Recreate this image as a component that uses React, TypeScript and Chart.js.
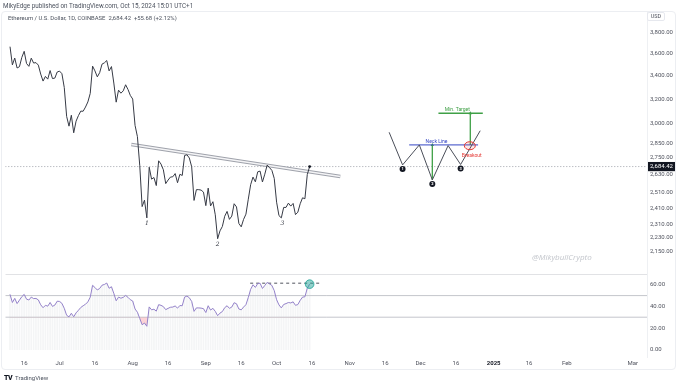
import React, { useEffect, useRef } from 'react';
import { Chart, registerables } from 'chart.js';

Chart.register(...registerables);

// ---------------- data ----------------
const ORIGIN_DATE = '2024-06-16';
const FIRST_BAR_DATE = '2024-06-10';

// ETH/USD daily closes, 2024-06-10 .. 2024-10-15
const closes = [
  3667, 3497, 3560, 3469, 3481, 3566, 3623, 3510, 3484, 3559, 3514, 3518, 3495, 3415, 3353, 3394, 3370, 3446, 3375, 3379, 3433,
  3441, 3418, 3297, 3059, 2982, 3068, 2931, 3021, 3065, 3101, 3100, 3134, 3176, 3247, 3486, 3443, 3390, 3427, 3504, 3516, 3537, 3443, 3482, 3336, 3174, 3275, 3249, 3269, 3321, 3281, 3230,
  3200, 2988, 2902, 2690, 2419, 2460, 2349, 2680, 2598, 2609, 2555, 2725, 2702, 2662, 2568, 2592, 2612, 2614, 2636, 2574, 2631, 2623, 2763, 2768, 2745, 2683, 2458, 2528, 2528, 2525, 2512,
  2425, 2538, 2423, 2450, 2368, 2225, 2271, 2297, 2359, 2389, 2340, 2360, 2437, 2417, 2315, 2295, 2340, 2372, 2466, 2561, 2612, 2580, 2648, 2653, 2579, 2632, 2695, 2677, 2658, 2603,
  2447, 2363, 2349, 2414, 2414, 2441, 2422, 2439, 2369, 2384, 2437, 2475, 2469, 2629, 2684.42,
];

const rsiValues = [
  51.1, 43.6, 47.4, 42.6, 45.8, 49.0, 51.1, 46.7, 45.9, 48.6, 47.2, 47.4, 46.0, 41.5, 38.8, 41.0, 40.2, 43.6, 40.0, 41.2, 44.8,
  44.6, 42.8, 38.2, 31.8, 30.3, 33.6, 30.4, 34.0, 36.4, 39.0, 40.6, 42.0, 44.2, 48.5, 59.5, 57.5, 55.2, 56.6, 59.6, 60.3, 61.6, 56.8, 58.2, 52.0, 45.2, 48.6, 47.6, 48.4, 50.2, 48.4, 46.2,
  45.0, 37.6, 34.6, 28.8, 23.0, 24.6, 21.6, 39.5, 36.8, 37.4, 35.6, 41.6, 41.0, 39.8, 37.0, 38.2, 39.2, 39.4, 40.4, 38.4, 40.8, 40.6, 48.6, 49.6, 48.0, 44.6, 35.4, 38.6, 38.6, 38.4, 37.9,
  34.3, 40.6, 36.6, 38.2, 35.4, 31.4, 33.8, 35.2, 38.8, 40.6, 38.2, 39.4, 43.4, 42.4, 37.6, 36.8, 39.4, 41.6, 48.2, 55.8, 60.0, 57.6, 61.2, 61.4, 56.6, 59.4, 62.2, 60.8, 59.4, 54.6,
  46.2, 41.4, 38.6, 41.8, 42.6, 43.6, 43.2, 44.2, 41.0, 41.7, 45.6, 48.6, 48.9, 56.8, 60.6,
];

const currentPrice = 2684.42;
const priceTicks = [3800, 3600, 3400, 3200, 3000, 2850, 2750, 2630, 2510, 2410, 2310, 2230, 2150];
const rsiTicks = [60, 40, 20, 0];
const rsiBands = [70, 50, 30];

const xTickDates = [
  '2024-06-16', '2024-07-01', '2024-07-16', '2024-08-01', '2024-08-16', '2024-09-01', '2024-09-16', '2024-10-01',
  '2024-10-16', '2024-11-01', '2024-11-16', '2024-12-01', '2024-12-16', '2025-01-01', '2025-01-16', '2025-02-01', '2025-03-01',
];
const xTickLabels = ['16', 'Jul', '16', 'Aug', '16', 'Sep', '16', 'Oct', '16', 'Nov', '16', 'Dec', '16', '2025', '16', 'Feb', 'Mar'];

// drawn annotations, in (day from 2024-06-16, price) units
const trendline = [[45.4, 2843], [134, 2616]];
const waveLabels = [{ text: '1', day: 52, price: 2349 }, { text: '2', day: 82, price: 2225 }, { text: '3', day: 109.5, price: 2349 }];
const schematicPath = [[154.7, 2935], [160.4, 2696], [167.5, 2840], [173, 2593], [179.7, 2835], [185, 2699], [193.3, 2947]];
const schematicMarkers = [{ text: '1', day: 160.4, price: 2696 }, { text: '2', day: 173, price: 2593 }, { text: '3', day: 185, price: 2699 }];
const neckLine = [[163.2, 2840], [192.4, 2840]];
const headArrow = [[173, 2593], [173, 2840]];
const targetArrow = [[189.1, 2840], [189.1, 3084]];
const targetLine = [[175.6, 3084], [194.4, 3084]];
const neckLabel = { text: 'Neck Line', day: 174.8, price: 2840 };
const targetLabel = { text: 'Min. Target', day: 183.6, price: 3084 };
const breakout = { text: 'Breakout', day: 188.9, price: 2834, labelDay: 189.7, labelPrice: 2764 };
const rsiLevelLine = [[95.8, 61.5], [125.6, 61.5]];
const rsiMarker = { day: 121, value: 60.6 };

// ---------------- helpers ----------------
const DAY_MS = 86400000;
const dayOf = (s: string) => Math.round((Date.parse(s + 'T00:00:00Z') - Date.parse(ORIGIN_DATE + 'T00:00:00Z')) / DAY_MS);
const firstDay = dayOf(FIRST_BAR_DATE);
const X_MIN = -8;
const X_MAX = 264;
const xTickDays = xTickDates.map(dayOf);
const pts = (arr: number[][]) => arr.map(([x, y]) => ({ x, y }));
const fmt = (v: number) => v.toLocaleString('en-US', { minimumFractionDigits: 2, maximumFractionDigits: 2 });

const GREEN = '#3fa046';
const BLUE = '#3446c4';
const RED = '#e53935';

const annotationPlugin = {
  id: 'tvAnnotations',
  afterDatasetsDraw(chart: any) {
    const { ctx } = chart;
    const x = chart.scales.x;
    const y = chart.scales.y;
    const px = (d: number) => x.getPixelForValue(d);
    const py = (p: number) => y.getPixelForValue(p);
    ctx.save();
    ctx.textAlign = 'center';
    ctx.textBaseline = 'middle';

    ctx.fillStyle = '#2a2e39';
    ctx.font = 'italic 6px "DejaVu Serif"';
    waveLabels.forEach((w) => ctx.fillText(w.text, px(w.day), py(w.price) + 6));

    ctx.beginPath();
    ctx.ellipse(px(breakout.day), py(breakout.price), 5.5, 4, 0, 0, Math.PI * 2);
    ctx.fillStyle = 'rgba(229,57,53,0.12)';
    ctx.fill();
    ctx.strokeStyle = RED;
    ctx.lineWidth = 1;
    ctx.stroke();

    schematicMarkers.forEach((m) => {
      const cx = px(m.day);
      const cy = py(m.price) + 4;
      ctx.beginPath();
      ctx.arc(cx, cy, 3, 0, Math.PI * 2);
      ctx.fillStyle = '#131722';
      ctx.fill();
      ctx.fillStyle = '#ffffff';
      ctx.font = 'bold 4px Roboto';
      ctx.fillText(m.text, cx, cy + 0.3);
    });

    ctx.font = '5px Roboto';
    ctx.textBaseline = 'bottom';
    ctx.fillStyle = BLUE;
    ctx.fillText(neckLabel.text, px(neckLabel.day), py(neckLabel.price) - 1);
    ctx.fillStyle = GREEN;
    ctx.fillText(targetLabel.text, px(targetLabel.day), py(targetLabel.price) - 1);
    ctx.textBaseline = 'middle';
    ctx.fillStyle = RED;
    ctx.fillText(breakout.text, px(breakout.labelDay), py(breakout.labelPrice));
    ctx.restore();
  },
};

export default function App() {
  const ref = useRef<HTMLCanvasElement>(null);

  useEffect(() => {
    document.body.style.margin = '0';
    const lineBase = { type: 'line', pointRadius: 0, tension: 0, fill: false, xAxisID: 'x' };
    const chart = new Chart(ref.current as HTMLCanvasElement, {
      type: 'line',
      data: {
        datasets: [
          {
            ...lineBase,
            yAxisID: 'y',
            data: closes.map((c, i) => ({ x: firstDay + i, y: c })),
            borderColor: '#363a45',
            borderWidth: 1,
            pointRadius: (c: any) => (c.dataIndex === closes.length - 1 ? 1.4 : 0),
            pointBackgroundColor: '#131722',
            pointBorderWidth: 0,
            order: 1,
          },
          { ...lineBase, yAxisID: 'y', data: pts(schematicPath), borderColor: '#4a4e59', borderWidth: 1, order: 2 },
          { ...lineBase, yAxisID: 'y', data: pts(neckLine), borderColor: BLUE, borderWidth: 1, order: 2 },
          {
            ...lineBase, yAxisID: 'y', data: pts(headArrow), borderColor: GREEN, borderWidth: 1.3, order: 2,
            pointStyle: 'triangle', pointRadius: [0, 2], pointBackgroundColor: GREEN, pointBorderWidth: 0,
          },
          {
            ...lineBase, yAxisID: 'y', data: pts(targetArrow), borderColor: GREEN, borderWidth: 1.3, order: 2,
            pointStyle: 'triangle', pointRadius: [0, 2], pointBackgroundColor: GREEN, pointBorderWidth: 0,
          },
          { ...lineBase, yAxisID: 'y', data: pts(targetLine), borderColor: GREEN, borderWidth: 1.3, order: 2 },
          { ...lineBase, yAxisID: 'y', data: pts(trendline), borderColor: '#f4f4f6', borderWidth: 1.4, order: 3 },
          { ...lineBase, yAxisID: 'y', data: pts(trendline), borderColor: '#9fa2ab', borderWidth: 3.4, order: 4 },
          {
            ...lineBase, yAxisID: 'y', data: [{ x: X_MIN, y: currentPrice }, { x: X_MAX, y: currentPrice }],
            borderColor: '#a0a3ab', borderWidth: 1, borderDash: [1, 2], order: 5,
          },
          // RSI pane
          {
            ...lineBase, yAxisID: 'rsi', data: rsiValues.map((r, i) => ({ x: firstDay + i, y: r })),
            borderColor: '#9381c9', borderWidth: 1, order: 1,
            fill: { target: { value: 30 }, above: 'rgba(0,0,0,0)', below: 'rgba(242,54,69,0.22)' },
          },
          {
            ...lineBase, yAxisID: 'rsi', data: pts(rsiLevelLine), borderColor: '#50535e', borderWidth: 1, borderDash: [3, 3], order: 2,
          },
          {
            ...lineBase, yAxisID: 'rsi', data: [{ x: rsiMarker.day, y: rsiMarker.value }], showLine: false,
            pointRadius: 4.3, pointBackgroundColor: 'rgba(38,166,154,0.5)', pointBorderColor: 'rgba(38,166,154,0.85)', pointBorderWidth: 1, order: 0,
          },
          ...rsiBands.map((b) => ({
            ...lineBase, yAxisID: 'rsi', data: [{ x: X_MIN, y: b }, { x: X_MAX, y: b }], borderColor: '#c4c6cc', borderWidth: 1, order: 6,
          })),
          {
            type: 'bar', xAxisID: 'x', yAxisID: 'rsi', data: rsiValues.map((r, i) => ({ x: firstDay + i, y: r })),
            backgroundColor: 'rgba(120,123,134,0.08)', barThickness: 1, order: 7,
          },
        ] as any,
      },
      options: {
        responsive: false,
        animation: false,
        devicePixelRatio: 1,
        events: [],
        layout: { padding: { top: 12, bottom: 15, left: 0, right: 0 } },
        plugins: { legend: { display: false }, tooltip: { enabled: false } },
        scales: {
          x: {
            type: 'linear', min: X_MIN, max: X_MAX, offset: false,
            grid: { display: false, drawTicks: false }, border: { display: false },
            afterBuildTicks: (s: any) => { s.ticks = xTickDays.map((v) => ({ value: v })); },
            afterFit: (s: any) => { s.height = 14; },
            ticks: {
              autoSkip: false, maxRotation: 0, padding: 3,
              color: (c: any) => (xTickLabels[c.index] === '2025' ? '#131722' : '#50535e'),
              font: (c: any) => ({ family: 'Roboto', size: 6, weight: xTickLabels[c.index] === '2025' ? 'bold' : 'normal' }),
              callback: (_v: any, i: number) => xTickLabels[i],
            },
          },
          y: {
            type: 'logarithmic', position: 'right', stack: 'panes', stackWeight: 262,
            min: 2030, max: 4013, bounds: 'data',
            grid: { display: false, drawTicks: false }, border: { display: true, color: '#eef0f3' },
            afterBuildTicks: (s: any) => { s.ticks = [...priceTicks, currentPrice].map((v) => ({ value: v })); },
            afterFit: (s: any) => { s.width = 33; },
            ticks: {
              autoSkip: false, padding: 3,
              font: { family: 'Roboto', size: 6 },
              color: (c: any) => (c.tick && c.tick.value === currentPrice ? '#ffffff' : '#50535e'),
              showLabelBackdrop: (c: any) => !!(c.tick && c.tick.value === currentPrice),
              backdropColor: '#131722',
              backdropPadding: { left: 2, right: 2, top: 1, bottom: 1 },
              callback: (v: any) => fmt(Number(v)),
            },
          },
          rsi: {
            type: 'linear', position: 'right', stack: 'panes', stackWeight: 83,
            min: -6.85, max: 70,
            grid: { display: false, drawTicks: false }, border: { display: true, color: '#eef0f3' },
            afterBuildTicks: (s: any) => { s.ticks = rsiTicks.map((v) => ({ value: v })); },
            afterFit: (s: any) => { s.width = 33; },
            ticks: {
              autoSkip: false, padding: 3,
              font: { family: 'Roboto', size: 6 }, color: '#50535e',
              callback: (v: any) => fmt(Number(v)),
            },
          },
        } as any,
      },
      plugins: [annotationPlugin],
    } as any);
    return () => chart.destroy();
  }, []);

  const overlay: React.CSSProperties = { position: 'absolute', whiteSpace: 'nowrap', lineHeight: 1, pointerEvents: 'none', fontFamily: 'Roboto, sans-serif' };

  return (
    <div style={{ position: 'absolute', left: 0, top: 0, width: 680, height: 386, background: '#ffffff', overflow: 'hidden' }}>
      <div style={{ position: 'absolute', left: 1, top: 11, width: 675, height: 359, border: '1px solid #eceef2', borderRadius: 4, boxSizing: 'border-box' }} />
      <canvas ref={ref} width={680} height={386} style={{ position: 'absolute', left: 0, top: 0, width: 680, height: 386 }} />
      <div style={{ ...overlay, left: 3, top: 3, fontSize: 6.3, color: '#4c525e' }}>
        MikyEdge published on TradingView.com, Oct 15, 2024 15:01 UTC+1
      </div>
      <div style={{ ...overlay, left: 8, top: 16.3, fontSize: 5.9, color: '#4c525e' }}>
        Ethereum / U.S. Dollar, 1D, COINBASE&nbsp;&nbsp;2,684.42&nbsp;&nbsp;+55.68 (+2.12%)
      </div>
      <div style={{ ...overlay, left: 647, top: 12, width: 18, height: 9, border: '1px solid #e6e8ee', borderRadius: 2, boxSizing: 'border-box', fontSize: 5.5, color: '#50535e', display: 'flex', alignItems: 'center', justifyContent: 'center' }}>
        USD
      </div>
      <div style={{ ...overlay, left: 532, top: 253, fontSize: 8, fontStyle: 'italic', color: '#c3c6cc', fontFamily: '"Open Sans", sans-serif' }}>
        @MikybullCrypto
      </div>
      <div style={{ ...overlay, left: 4, top: 375, fontSize: 6, color: '#131722' }}>
        <span style={{ fontWeight: 900, fontSize: 7, letterSpacing: -0.5 }}>TV</span>
        <span style={{ marginLeft: 3, color: '#4c525e' }}>TradingView</span>
      </div>
    </div>
  );
}
